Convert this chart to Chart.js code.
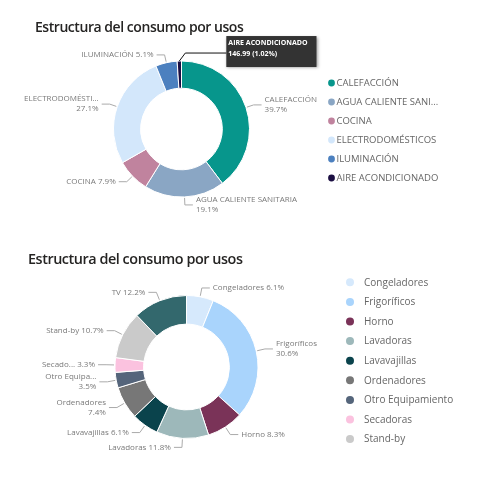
<!DOCTYPE html>
<html>
<head>
<meta charset="utf-8">
<script src="https://cdn.jsdelivr.net/npm/chart.js@4.4.1/dist/chart.umd.min.js"></script>
<style>
  html, body { margin: 0; padding: 0; background: #ffffff; }
  .panel { position: absolute; left: 0; width: 500px; height: 240px; }
  #p1 { top: 0; }
  #p2 { top: 240px; }
</style>
</head>
<body>
<div class="panel" id="p1"><canvas id="c1" width="500" height="240"></canvas></div>
<div class="panel" id="p2"><canvas id="c2" width="500" height="240"></canvas></div>
<script>
// ---------- DATA ----------
const titleText = 'Estructura del consumo por usos';

const usosCategories = ['CALEFACCIÓN', 'AGUA CALIENTE SANITARIA', 'COCINA', 'ELECTRODOMÉSTICOS', 'ILUMINACIÓN', 'AIRE ACONDICIONADO'];
const usosValues = [5721, 2752, 1138, 3905, 735, 146.99];
const usosColors = ['#07968C', '#8AA6C4', '#C0839E', '#D3E7FB', '#4C80BF', '#1B0E42'];

const electroCategories = ['Congeladores', 'Frigoríficos', 'Horno', 'Lavadoras', 'Lavavajillas', 'Ordenadores', 'Otro Equipamiento', 'Secadoras', 'Stand-by', 'TV'];
const electroValues = [6.1, 30.6, 8.3, 11.8, 6.1, 7.4, 3.5, 3.3, 10.7, 12.2];
const electroColors = ['#D6E9FC', '#A9D4FC', '#7A3358', '#9DB8BA', '#0A434C', '#777777', '#55657B', '#FBC2DF', '#CACACA', '#33686D'];

// ---------- PLUGINS ----------
function fitText(ctx, text, maxW) {
  if (ctx.measureText(text).width <= maxW) return text;
  let t = text;
  while (t.length > 1 && ctx.measureText(t + '...').width > maxW) t = t.slice(0, -1);
  return t.trimEnd() + '...';
}

const panelTitle = {
  id: 'panelTitle',
  afterDraw(chart, args, o) {
    const ctx = chart.ctx;
    ctx.save();
    ctx.font = o.font;
    if ('letterSpacing' in ctx) ctx.letterSpacing = o.letterSpacing;
    ctx.fillStyle = o.color;
    ctx.textBaseline = 'alphabetic';
    ctx.textAlign = 'left';
    ctx.fillText(o.text, o.x, o.y);
    ctx.restore();
  }
};

const sideLegend = {
  id: 'sideLegend',
  afterDraw(chart, args, o) {
    const ctx = chart.ctx;
    const labels = chart.data.labels;
    const colors = chart.data.datasets[0].backgroundColor;
    ctx.save();
    ctx.font = o.font;
    ctx.textBaseline = 'middle';
    ctx.textAlign = 'left';
    labels.forEach((lab, i) => {
      const y = o.y + i * o.spacing;
      if (y > o.maxY) return;
      ctx.beginPath();
      ctx.fillStyle = colors[i];
      ctx.arc(o.dotX, y, o.dotR, 0, Math.PI * 2);
      ctx.fill();
      ctx.fillStyle = o.color;
      ctx.fillText(fitText(ctx, lab, o.maxWidth), o.textX, y + 0.5);
    });
    ctx.restore();
  }
};

const donutLabels = {
  id: 'donutLabels',
  afterDatasetsDraw(chart, args, o) {
    const ctx = chart.ctx;
    const meta = chart.getDatasetMeta(0);
    const data = chart.data.datasets[0].data;
    const labels = chart.data.labels;
    const total = data.reduce((a, b) => a + b, 0);
    ctx.save();
    ctx.font = o.font;
    ctx.textBaseline = 'middle';
    const items = [];
    meta.data.forEach((arc, i) => {
      const pct = data[i] / total * 100;
      if (pct < o.minPct) return;
      const p = arc.getProps(['x', 'y', 'startAngle', 'endAngle', 'outerRadius'], true);
      const mid = (p.startAngle + p.endAngle) / 2;
      const c = Math.cos(mid), s = Math.sin(mid);
      const p0 = { x: p.x + c * (p.outerRadius + 1), y: p.y + s * (p.outerRadius + 1) };
      const p1 = { x: p.x + c * (p.outerRadius + o.radial), y: p.y + s * (p.outerRadius + o.radial) };
      const right = c >= 0;
      const p2 = { x: p1.x + (right ? o.horiz : -o.horiz), y: p1.y };
      const tx = p2.x + (right ? o.gap : -o.gap);
      const maxW = right ? o.rightLimit - tx : tx - o.leftLimit;
      const pctStr = pct.toFixed(1) + '%';
      const full = labels[i] + ' ' + pctStr;
      let lines;
      if (ctx.measureText(full).width <= maxW) lines = [full];
      else lines = [fitText(ctx, labels[i], maxW), pctStr];
      items.push({ i, p0, p1, p2, tx, right, lines, maxW, pctStr, name: labels[i] });
    });
    // avoid vertical overlaps: shrink 2-line labels to one line when they collide with the previous label on the same side
    const lastOnSide = { left: null, right: null };
    items.forEach(it => {
      const side = it.right ? 'right' : 'left';
      const prev = lastOnSide[side];
      if (prev && it.lines.length === 2) {
        const h = it.lines.length * o.lineH;
        const top = it.p2.y - h / 2, bottom = it.p2.y + h / 2;
        const pTop = prev.p2.y - prev.lines.length * o.lineH / 2;
        const pBottom = prev.p2.y + prev.lines.length * o.lineH / 2;
        if (top < pBottom && bottom > pTop) {
          const nameW = it.maxW - ctx.measureText(' ' + it.pctStr).width;
          it.lines = [fitText(ctx, it.name, nameW) + ' ' + it.pctStr];
        }
      }
      lastOnSide[side] = it;
    });
    items.forEach(it => {
      ctx.strokeStyle = o.lineColor;
      ctx.lineWidth = 1;
      ctx.beginPath();
      ctx.moveTo(it.p0.x, it.p0.y);
      ctx.lineTo(it.p1.x, it.p1.y);
      ctx.lineTo(it.p2.x, it.p2.y);
      ctx.stroke();
      ctx.fillStyle = o.color;
      ctx.textAlign = it.right ? 'left' : 'right';
      const n = it.lines.length;
      it.lines.forEach((ln, k) => {
        const y = it.p2.y + (k - (n - 1) / 2) * o.lineH;
        ctx.fillText(ln, it.tx, y);
      });
    });
    ctx.restore();
  }
};

const hoverTip = {
  id: 'hoverTip',
  afterDraw(chart, args, o) {
    if (o.index == null) return;
    const ctx = chart.ctx;
    const data = chart.data.datasets[0].data;
    const total = data.reduce((a, b) => a + b, 0);
    const arc = chart.getDatasetMeta(0).data[o.index];
    const p = arc.getProps(['x', 'y', 'startAngle', 'endAngle', 'outerRadius'], true);
    const mid = (p.startAngle + p.endAngle) / 2;
    const p0 = { x: p.x + Math.cos(mid) * p.outerRadius, y: p.y + Math.sin(mid) * p.outerRadius };
    const p1 = { x: p0.x + 6, y: p0.y - 8 };
    const boxX = p1.x + o.offset;
    const line1 = chart.data.labels[o.index];
    const line2 = data[o.index].toFixed(2) + ' (' + (data[o.index] / total * 100).toFixed(2) + '%)';
    ctx.save();
    ctx.font = o.font;
    const w = Math.max(ctx.measureText(line1).width, ctx.measureText(line2).width) + o.padL + o.padR;
    const h = o.height;
    const boxY = p1.y - 17;
    ctx.strokeStyle = '#111111';
    ctx.lineWidth = 1;
    ctx.beginPath();
    ctx.moveTo(p0.x, p0.y);
    ctx.lineTo(p1.x, p1.y);
    ctx.lineTo(boxX, p1.y);
    ctx.stroke();
    ctx.shadowColor = 'rgba(0,0,0,0.35)';
    ctx.shadowBlur = 3;
    ctx.shadowOffsetX = 1;
    ctx.shadowOffsetY = 1;
    ctx.fillStyle = o.bg;
    ctx.fillRect(boxX, boxY, w, h);
    ctx.shadowColor = 'transparent';
    ctx.fillStyle = '#ffffff';
    ctx.textBaseline = 'middle';
    ctx.textAlign = 'left';
    ctx.fillText(line1, boxX + o.padL, boxY + 7);
    ctx.fillText(line2, boxX + o.padL, boxY + 17.5);
    ctx.restore();
  }
};

Chart.register(panelTitle, sideLegend, donutLabels, hoverTip);

const labelFont = '8px "Open Sans", "Noto Sans", sans-serif';

function makeDonut(canvasId, cats, vals, cols, cfg) {
  return new Chart(document.getElementById(canvasId), {
    type: 'doughnut',
    data: {
      labels: cats,
      datasets: [{
        data: vals,
        backgroundColor: cols,
        borderColor: '#ffffff',
        borderWidth: 1,
        hoverOffset: 0
      }]
    },
    options: {
      responsive: false,
      animation: false,
      cutout: '60%',
      rotation: 0,
      layout: { padding: cfg.padding },
      events: [],
      plugins: {
        legend: { display: false },
        title: { display: false },
        tooltip: { enabled: false },
        panelTitle: cfg.title,
        sideLegend: cfg.legend,
        donutLabels: cfg.labels,
        hoverTip: cfg.tip
      }
    }
  });
}

makeDonut('c1', usosCategories, usosValues, usosColors, {
  padding: { left: 113, right: 250, top: 60.5, bottom: 42.5 },
  title: { text: titleText, x: 35, y: 31.5, font: '600 14px "Open Sans", "Noto Sans", sans-serif',
           letterSpacing: '-0.45px', color: '#252423' },
  legend: { dotX: 331.5, textX: 336.5, y: 83, spacing: 19, dotR: 3.4, maxY: 230, maxWidth: 105,
            font: '9.5px "Open Sans", "Noto Sans", sans-serif', color: '#666666' },
  labels: { minPct: 2, radial: 8, horiz: 8, gap: 3, lineH: 10, rightLimit: 318, leftLimit: 24,
            font: labelFont, color: '#7a7a7a', lineColor: '#aaaaaa' },
  tip: { index: 5, offset: 41, padL: 2, padR: 9, height: 31, bg: '#333333',
         font: 'bold 7px "Open Sans", "Noto Sans", sans-serif' }
});

makeDonut('c2', electroCategories, electroValues, electroColors, {
  padding: { left: 114.5, right: 241.5, top: 55, bottom: 41 },
  title: { text: titleText, x: 28, y: 24, font: '600 14.4px "Open Sans", "Noto Sans", sans-serif',
           letterSpacing: '-0.45px', color: '#252423' },
  legend: { dotX: 350, textX: 364, y: 42.3, spacing: 19.6, dotR: 4, maxY: 205, maxWidth: 130,
            font: '10px "Open Sans", "Noto Sans", sans-serif', color: '#666666' },
  labels: { minPct: 2, radial: 9, horiz: 8, gap: 3, lineH: 10, rightLimit: 335, leftLimit: 40,
            font: labelFont, color: '#7a7a7a', lineColor: '#aaaaaa' },
  tip: { index: null }
});
</script>
</body>
</html>
